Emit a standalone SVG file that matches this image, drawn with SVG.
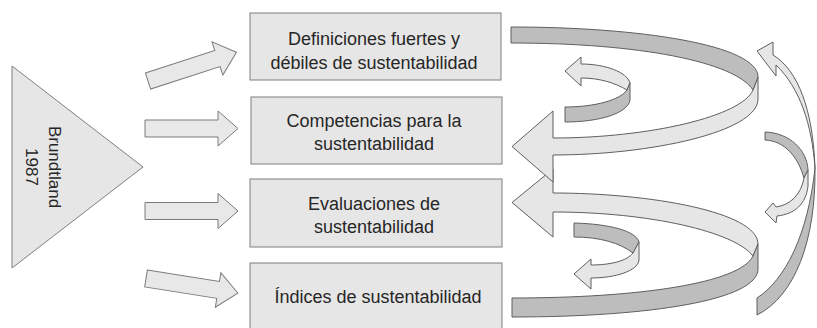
<svg xmlns="http://www.w3.org/2000/svg" width="817" height="328" viewBox="0 0 817 328">
<style>
.box{fill:#e7e6e6;stroke:#7f7f7f;stroke-width:1}
.lbl{font-family:"Liberation Sans",Arial,sans-serif;font-size:18px;fill:#262626;text-anchor:middle}
.blk{fill:#e8e8e8;stroke:#7a7a7a;stroke-width:1}
.lt{fill:#e6e6e6;stroke:#5f5f5f;stroke-width:1;stroke-linejoin:round}
.dk{fill:#bdbdbd;stroke:#5f5f5f;stroke-width:1;stroke-linejoin:round}
</style>
<defs>
<path id="blockArrow" d="M0,-8.5 L73,-8.5 L73,-17.5 L93,0 L73,17.5 L73,8.5 L0,8.5 Z"/>
</defs>
<g id="brundtland">
<polygon class="box" points="12,66 12,268 143,167"/>
<g transform="translate(0,167) rotate(90)">
<text class="lbl" x="0" y="-49" style="font-size:17px">Brundtland</text>
<text class="lbl" x="0" y="-26" style="font-size:17px">1987</text>
</g>
</g>
<g id="box1">
<rect class="box" x="250" y="13" width="251" height="67"/>
<text class="lbl" x="374" y="45">Definiciones fuertes y</text>
<text class="lbl" x="374" y="69">débiles de sustentabilidad</text>
</g>
<g id="box2">
<rect class="box" x="251" y="97" width="251" height="67"/>
<text class="lbl" x="374" y="127">Competencias para la</text>
<text class="lbl" x="374" y="150">sustentabilidad</text>
</g>
<g id="box3">
<rect class="box" x="250" y="179" width="252" height="68"/>
<text class="lbl" x="374" y="210">Evaluaciones de</text>
<text class="lbl" x="374" y="233">sustentabilidad</text>
</g>
<g id="box4">
<rect class="box" x="250" y="263" width="252" height="70"/>
<text class="lbl" x="378" y="303">Índices de sustentabilidad</text>
</g>
<g id="connectors">
<use href="#blockArrow" class="blk" transform="translate(148,81) rotate(-18)"/>
<use href="#blockArrow" class="blk" transform="translate(145,128.5)"/>
<use href="#blockArrow" class="blk" transform="translate(145,211)"/>
<use href="#blockArrow" class="blk" transform="translate(146,278.5) rotate(9)"/>
<!-- lower big swirl -->
<path class="lt" d="M553,193 C650,193 758,212 758,244 L753,256 C735,232 650,212 553,212 L553,237 L512,202.5 L553,169 Z"/>
<path class="dk" d="M758,244 L758,269 C758,300 650,317 512,317 L512,298 C640,298 740,283 753,256 Z"/>
<!-- upper big swirl -->
<path class="lt" d="M758,77 L758,99 C758,132 650,155 553,155 L553,182 L512,146.5 L553,111 L553,138 C650,138 742,116 753,90 Z"/>
<path class="dk" d="M511,27 C640,27 758,45 758,77 L753,90 C735,62 640,43 511,43 Z"/>
<!-- upper small swirl -->
<path class="lt" d="M565,71 L581,57 L581,64 C605,64 627,72 630,83 L627,90 C615,83 600,78 581,78 L581,86 Z"/>
<path class="dk" d="M630,83 L630,100 C628,113 600,122 565,122 L565,107 C595,107 620,100 627,90 Z"/>
<!-- lower small swirl -->
<path class="dk" d="M574,223 C610,224 636,231 639,242 L633,253 C620,243 600,237 574,237 Z"/>
<path class="lt" d="M639,242 L639,260 C638,271 615,278 591,278 L591,289 L574,274 L591,259 L591,265 C610,265 627,261 633,253 Z"/>
<!-- right side arcs -->
<path class="lt" d="M757,51 L773,42 L773,55 C798,70 813,110 815,168 C812,125 800,88 776,65 L776,76 Z"/>
<path class="dk" d="M815,168 C816,240 795,296 757,315 L757,298 C785,280 808,235 815,168 Z"/>
<path class="dk" d="M765,132 C790,133 807,150 808,170 L804,178 C798,157 785,141 765,140 Z"/>
<path class="lt" d="M808,170 L808,186 C806,204 795,214 777,216 L776,223 L765,212 L773,203 L776,207 C790,205 801,195 804,178 Z"/>
</g>
</svg>
